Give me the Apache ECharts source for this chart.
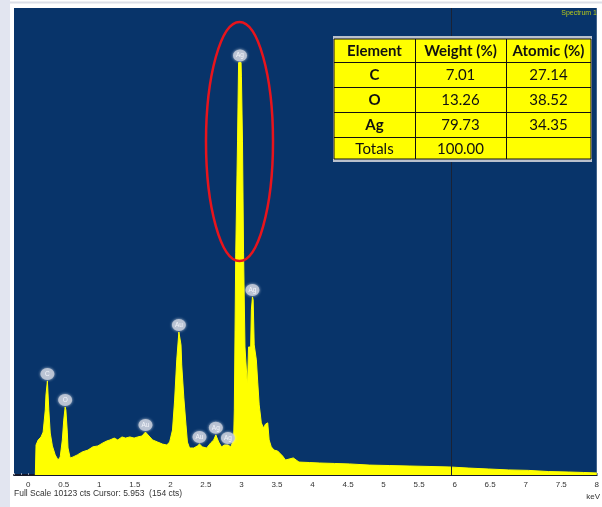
<!DOCTYPE html>
<html>
<head>
<meta charset="utf-8">
<script src="https://cdn.jsdelivr.net/npm/echarts@6/dist/echarts.min.js"></script>
<style>
  html, body { margin: 0; padding: 0; background: #ffffff; }
  #chart { width: 602px; height: 507px; }
</style>
</head>
<body>
<div id="chart"></div>
<script>
// EDS spectrum: photon energy (keV) and counts per channel
const energyKeV = [
  0.10, 0.11, 0.14, 0.18, 0.21, 0.24, 0.25, 0.27, 0.28, 0.29, 0.31, 0.34, 0.38, 0.42, 0.45,
  0.48, 0.50, 0.52, 0.53, 0.55, 0.56, 0.59, 0.63, 0.69, 0.76, 0.84, 0.91, 0.98, 1.05, 1.11,
  1.15, 1.21, 1.26, 1.32, 1.37, 1.43, 1.49, 1.54, 1.60, 1.65, 1.70, 1.75, 1.82, 1.89, 1.95,
  1.99, 2.03, 2.06, 2.09, 2.12, 2.15, 2.16, 2.19, 2.22, 2.24, 2.27, 2.33, 2.38, 2.41, 2.45,
  2.51, 2.57, 2.61, 2.64, 2.68, 2.72, 2.76, 2.81, 2.85, 2.87, 2.89, 2.90, 2.915, 2.92, 2.94,
  2.945, 2.955, 2.96, 2.995, 3.00, 3.01, 3.015, 3.025, 3.03, 3.045, 3.05, 3.06, 3.085, 3.09, 3.10,
  3.13, 3.14, 3.155, 3.165, 3.18, 3.21, 3.23, 3.25, 3.28, 3.31, 3.34, 3.37, 3.39, 3.42, 3.46,
  3.51, 3.53, 3.58, 3.62, 3.67, 3.73, 3.77, 3.81, 3.96, 4.10, 4.31, 4.52, 4.80, 5.08, 5.36,
  5.64, 5.92, 6.20, 6.48, 6.76, 7.04, 7.32, 7.60, 7.81, 8.00
];
const counts = [
  0, 650, 760, 825, 930, 1410, 1735, 2040, 2000, 1410, 910, 630, 435, 325, 390,
  760, 1190, 1475, 1410, 930, 585, 370, 390, 435, 500, 540, 610, 630, 695, 740,
  760, 800, 760, 825, 800, 825, 800, 825, 845, 930, 845, 760, 715, 670, 650,
  715, 975, 1625, 2495, 3100, 2820, 2385, 1670, 1085, 715, 585, 585, 630, 670, 610,
  585, 700, 760, 870, 715, 610, 650, 650, 610, 650, 760, 1410, 1410, 4815, 4815,
  7220, 7220, 8940, 8940, 8630, 8630, 7220, 7220, 4815, 4815, 2775, 2775, 1910, 1910, 2775,
  2775, 3580, 3860, 3800, 2820, 2495, 1995, 1520, 1130, 1020, 1105, 1130, 760, 610, 540,
  520, 540, 410, 325, 345, 370, 325, 280, 270, 260, 250, 240, 215, 205, 195,
  185, 175, 150, 130, 110, 100, 75, 65, 55, 45
];
const fullScaleCts = 10123;

// Identified lines
const peakNames = ['C', 'O', 'Au', 'Au', 'Au', 'Ag', 'Ag', 'Ag', 'Ag'];
const peakKeV   = [0.27, 0.52, 1.65, 2.12, 2.41, 2.64, 2.81, 2.98, 3.155];

// Quantification table
const tableHeader   = ['Element', 'Weight (%)', 'Atomic (%)'];
const tableElements = ['C', 'O', 'Ag', 'Totals'];
const weightPct     = ['7.01', '13.26', '79.73', '100.00'];
const atomicPct     = ['27.14', '38.52', '34.35', ''];

const cursorKeV = 5.953;
const cursorCts = 154;
const spectrumName = 'Spectrum 1';

const spectrum = energyKeV.map((e, i) => [e, counts[i]]);

// each badge sits on the highest channel within 0.02 keV of its line energy
const badges = peakKeV.map((e, k) => {
  let best = -1;
  energyKeV.forEach((x, i) => {
    if (Math.abs(x - e) <= 0.02 && (best < 0 || counts[i] > counts[best])) best = i;
  });
  return { name: peakNames[k], value: [e, counts[best]] };
});

const chart = echarts.init(document.getElementById('chart'), null, { renderer: 'canvas' });

const GRID = { left: 14, right: 3, top: 8, bottom: 32 };
const NAVY = '#08346a';
const YELLOW = '#ffff00';

// table layout
const tX = [334, 415, 506, 591];
const tY = [39, 62, 87, 112, 137, 159];
const tableFont = 'Lato, "Open Sans", sans-serif';
const tableGraphics = [];
tableGraphics.push({ id: 'tblFrame', type: 'rect', shape: { x: tX[0] - 1, y: tY[0] - 3, width: tX[3] - tX[0] + 2, height: tY[5] - tY[0] + 6 },
  style: { fill: '#b9c0cc' }, z: 10 });
tableGraphics.push({ id: 'tblFill', type: 'rect', shape: { x: tX[0], y: tY[0], width: tX[3] - tX[0], height: tY[5] - tY[0] },
  style: { fill: YELLOW, stroke: '#111', lineWidth: 1 }, z: 11 });
for (let r = 1; r < tY.length - 1; r++) {
  tableGraphics.push({ id: 'row' + r, type: 'line', shape: { x1: tX[0], y1: tY[r] + 0.5, x2: tX[3], y2: tY[r] + 0.5 },
    style: { stroke: '#111', lineWidth: 1 }, z: 12 });
}
for (let c = 1; c < tX.length - 1; c++) {
  tableGraphics.push({ id: 'col' + c, type: 'line', shape: { x1: tX[c] + 0.5, y1: tY[0], x2: tX[c] + 0.5, y2: tY[5] },
    style: { stroke: '#111', lineWidth: 1 }, z: 12 });
}
const cell = (text, c, r, bold) => ({
  id: 'cell' + c + '_' + r, type: 'text', z: 13,
  x: (tX[c] + tX[c + 1]) / 2, y: (tY[r] + tY[r + 1]) / 2 + 1,
  style: { text, fill: '#111', font: (bold ? 'bold ' : '') + '15px ' + tableFont, align: 'center', verticalAlign: 'middle' }
});
tableHeader.forEach((h, c) => tableGraphics.push(cell(h, c, 0, true)));
tableElements.forEach((el, r) => {
  tableGraphics.push(cell(el, 0, r + 1, r < 3));
  tableGraphics.push(cell(weightPct[r], 1, r + 1, false));
  tableGraphics.push(cell(atomicPct[r], 2, r + 1, false));
});

chart.setOption({
  animation: false,
  backgroundColor: '#ffffff',
  grid: { ...GRID, show: true, backgroundColor: NAVY, borderWidth: 0 },
  xAxis: {
    type: 'value', min: -0.2, max: 8, interval: 0.1,
    axisLine: { show: true, onZero: false, lineStyle: { color: '#15182a', width: 2 } },
    axisTick: { show: true, length: 2, inside: true, lineStyle: { color: '#8a93a8', width: 1 } },
    splitLine: { show: false },
    axisLabel: {
      margin: 6, fontSize: 8, color: '#333', fontFamily: 'Arial, "Liberation Sans", sans-serif',
      showMinLabel: true, showMaxLabel: true, hideOverlap: false,
      formatter: v => {
        const t = Math.round(v * 10) / 10;
        if (t < 0 || Math.abs(t * 2 - Math.round(t * 2)) > 1e-6) return '';
        return String(t);
      }
    }
  },
  yAxis: { type: 'value', min: 0, max: fullScaleCts, show: false, splitLine: { show: false } },
  series: [
    {
      type: 'line', data: spectrum, symbol: 'none', z: 2,
      lineStyle: { color: YELLOW, width: 1 },
      areaStyle: { color: YELLOW, opacity: 1 },
      markLine: {
        silent: true, symbol: 'none', label: { show: false },
        lineStyle: { color: '#1a2235', width: 1, type: 'solid' },
        data: [{ xAxis: cursorKeV }]
      }
    },
    {
      type: 'scatter', data: badges, z: 5,
      symbol: 'circle', symbolSize: [14, 12], symbolOffset: [0, -7],
      itemStyle: { color: '#bcc4d4', opacity: 0.95, shadowBlur: 3, shadowColor: 'rgba(255,255,255,0.75)' },
      label: { show: true, position: 'inside', formatter: p => p.name,
        fontSize: 6.5, color: '#f6f8fc', fontFamily: 'Arial, sans-serif' }
    }
  ],
  graphic: [
    { id: 'sideStrip', type: 'rect', shape: { x: 0, y: 0, width: 10, height: 507 }, style: { fill: '#e2e5f0' }, z: 0 },
    { id: 'topRule', type: 'line', shape: { x1: 10, y1: 2.5, x2: 602, y2: 2.5 }, style: { stroke: '#dcdfe8', lineWidth: 2 }, z: 0 },
    { id: 'specName', type: 'text', x: 597, y: 10, z: 10,
      style: { text: spectrumName, fill: '#b4c61c', font: '7px Arial, sans-serif', align: 'right', verticalAlign: 'top' } },
    { id: 'status', type: 'text', left: 14, top: 489, z: 10,
      style: { text: 'Full Scale ' + fullScaleCts + ' cts Cursor: ' + cursorKeV.toFixed(3) + '  (' + cursorCts + ' cts)',
        fill: '#333', font: '8.5px Arial, "Liberation Sans", sans-serif' } },
    { id: 'unit', type: 'text', x: 600, y: 493, z: 10,
      style: { text: 'keV', fill: '#333', font: '8px Arial, "Liberation Sans", sans-serif', align: 'right', verticalAlign: 'top' } },
    ...tableGraphics
  ]
});

// highlight ellipse around the main Ag L-alpha line
const ellTop = chart.convertToPixel({ gridIndex: 0 }, [peakKeV[7], fullScaleCts * 0.97]);
const ellBot = chart.convertToPixel({ gridIndex: 0 }, [peakKeV[7], fullScaleCts * 0.458]);
chart.setOption({
  graphic: [
    { id: 'highlight', type: 'ellipse', z: 20,
      shape: { cx: ellTop[0] - 0.5, cy: (ellTop[1] + ellBot[1]) / 2, rx: 33.5, ry: (ellBot[1] - ellTop[1]) / 2 },
      style: { fill: 'none', stroke: '#e8141c', lineWidth: 2.5 } }
  ]
});
</script>
</body>
</html>
